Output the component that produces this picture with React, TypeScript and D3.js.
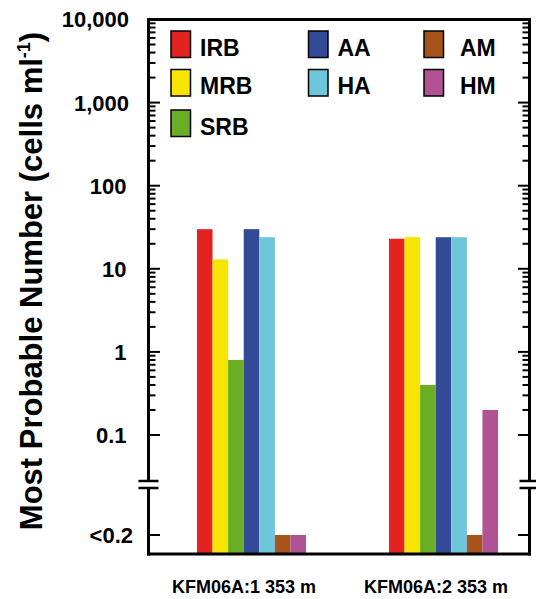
import React from "react";
import * as d3 from "d3";

const categories = ["KFM06A:1 353 m", "KFM06A:2 353 m"];
const seriesNames = ["IRB", "MRB", "SRB", "AA", "HA", "AM", "HM"];
const seriesColors = ["#e32322", "#f5e500", "#69ae24", "#334a97", "#6fc6da", "#a6541a", "#b05294"];
// null = below detection limit, drawn at the "<0.2" level
const IRB = [30, 23];
const MRB = [13, 24];
const SRB = [0.8, 0.4];
const AA = [30, 24];
const HA = [24, 24];
const AM: (number | null)[] = [null, null];
const HM: (number | null)[] = [null, 0.2];
const seriesValues = [IRB, MRB, SRB, AA, HA, AM, HM];
const majorTickLabels = ["0.1", "1", "10", "100", "1,000", "10,000"];
const majorTickValues = [0.1, 1, 10, 100, 1000, 10000];
const belowLabel = "<0.2";
const yTitle = "Most Probable Number (cells ml";

const W = 536;
const H = 599;
const FONT = "'Liberation Sans', Arial, Helvetica, sans-serif";

export default function App() {
  const left = 148.5;
  const right = 529.5;
  const top = 19.5;
  const bottom = 554;
  const breakTop = 481;
  const breakBot = 488;

  const y = d3.scaleLog().domain([0.1, 10000]).range([435, 19.5]);
  const yLow = d3.scaleLinear().domain([0, 1]).range([bottom, 535]);

  const x = d3
    .scaleBand<string>()
    .domain(categories)
    .range([155.5, 539.5])
    .paddingInner(0.432)
    .paddingOuter(0.216);
  const xs = d3.scaleBand<string>().domain(seriesNames).range([0, x.bandwidth()]).padding(0);

  const allTicks = y.ticks();
  const isMajor = (v: number) => Math.abs(Math.log10(v) - Math.round(Math.log10(v))) < 1e-6;

  const legendPos = (i: number) => {
    const colX = [171, 308.5, 424];
    const rowY = [31, 69.5, 110];
    const textDx = [29, 29, 36];
    let c = 0, r = i;
    if (i >= 5) { c = 2; r = i - 5; } else if (i >= 3) { c = 1; r = i - 3; }
    return { x: colX[c], y: rowY[r], tx: colX[c] + textDx[c] };
  };

  const axisSide = (ax: number, dir: number, key: string) => (
    <g key={key}>
      <line x1={ax} x2={ax} y1={top - 1.5} y2={breakTop} stroke="#000" strokeWidth={3} />
      <line x1={ax} x2={ax} y1={breakBot} y2={bottom + 1.5} stroke="#000" strokeWidth={3} />
      <line x1={ax - 10} x2={ax + 10} y1={breakTop} y2={breakTop} stroke="#000" strokeWidth={2.5} />
      <line x1={ax - 10} x2={ax + 10} y1={breakBot} y2={breakBot} stroke="#000" strokeWidth={2.5} />
      {allTicks.map((t, i) => (
        <line
          key={i}
          x1={ax}
          x2={ax + dir * (isMajor(t) ? 11.5 : 7)}
          y1={y(t)}
          y2={y(t)}
          stroke="#000"
          strokeWidth={2}
        />
      ))}
      <line x1={ax} x2={ax + dir * 11.5} y1={yLow(1)} y2={yLow(1)} stroke="#000" strokeWidth={2} />
    </g>
  );

  return (
    <svg
      width={W}
      height={H}
      viewBox={`0 0 ${W} ${H}`}
      style={{ position: "absolute", left: 0, top: 0, background: "#fff" }}
      fontFamily={FONT}
    >
      <rect x={0} y={0} width={W} height={H} fill="#fff" />
      {/* bars */}
      {categories.map((cat, ci) => (
        <g key={cat}>
          {seriesNames.map((s, si) => {
            const v = seriesValues[si][ci];
            const yt = v == null ? yLow(1) : y(v);
            return (
              <rect
                key={s}
                x={(x(cat) as number) + (xs(s) as number)}
                y={yt}
                width={xs.bandwidth()}
                height={bottom - yt}
                fill={seriesColors[si]}
              />
            );
          })}
        </g>
      ))}
      {/* frame */}
      <line x1={left} x2={right} y1={top} y2={top} stroke="#000" strokeWidth={3} />
      <line x1={left - 1.5} x2={right + 1.5} y1={bottom} y2={bottom} stroke="#000" strokeWidth={3} />
      {axisSide(left, 1, "l")}
      {axisSide(right, -1, "r")}
      {/* y tick labels */}
      {majorTickValues.map((t, i) => (
        <text
          key={t}
          x={i >= 4 ? 129 : 126.5}
          y={y(t)}
          dy="0.36em"
          textAnchor="end"
          fontSize={22}
          fontWeight="bold"
          fill="#000"
        >
          {majorTickLabels[i]}
        </text>
      ))}
      <text x={133} y={yLow(1)} dy="0.36em" textAnchor="end" fontSize={22} fontWeight="bold">
        {belowLabel}
      </text>
      {/* x labels */}
      {categories.map((cat) => (
        <text
          key={cat}
          x={(x(cat) as number) + x.bandwidth() / 2 - 7.5}
          y={593}
          textAnchor="middle"
          fontSize={18}
          fontWeight="bold"
        >
          {cat}
        </text>
      ))}
      {/* y title */}
      <text
        transform={`translate(42,281) rotate(-90)`}
        textAnchor="middle"
        fontSize={31}
        fontWeight="bold"
      >
        {yTitle}
        <tspan dy={-12} fontSize={18}>-1</tspan>
        <tspan dy={12}>)</tspan>
      </text>
      {/* legend */}
      {seriesNames.map((s, i) => {
        const p = legendPos(i);
        return (
          <g key={s}>
            <rect x={p.x} y={p.y} width={19.5} height={26.5} fill={seriesColors[i]} stroke="#000" strokeWidth={1.5} />
            <text x={p.tx} y={p.y + 24.5} fontSize={23} fontWeight="bold">
              {s}
            </text>
          </g>
        );
      })}
    </svg>
  );
}
